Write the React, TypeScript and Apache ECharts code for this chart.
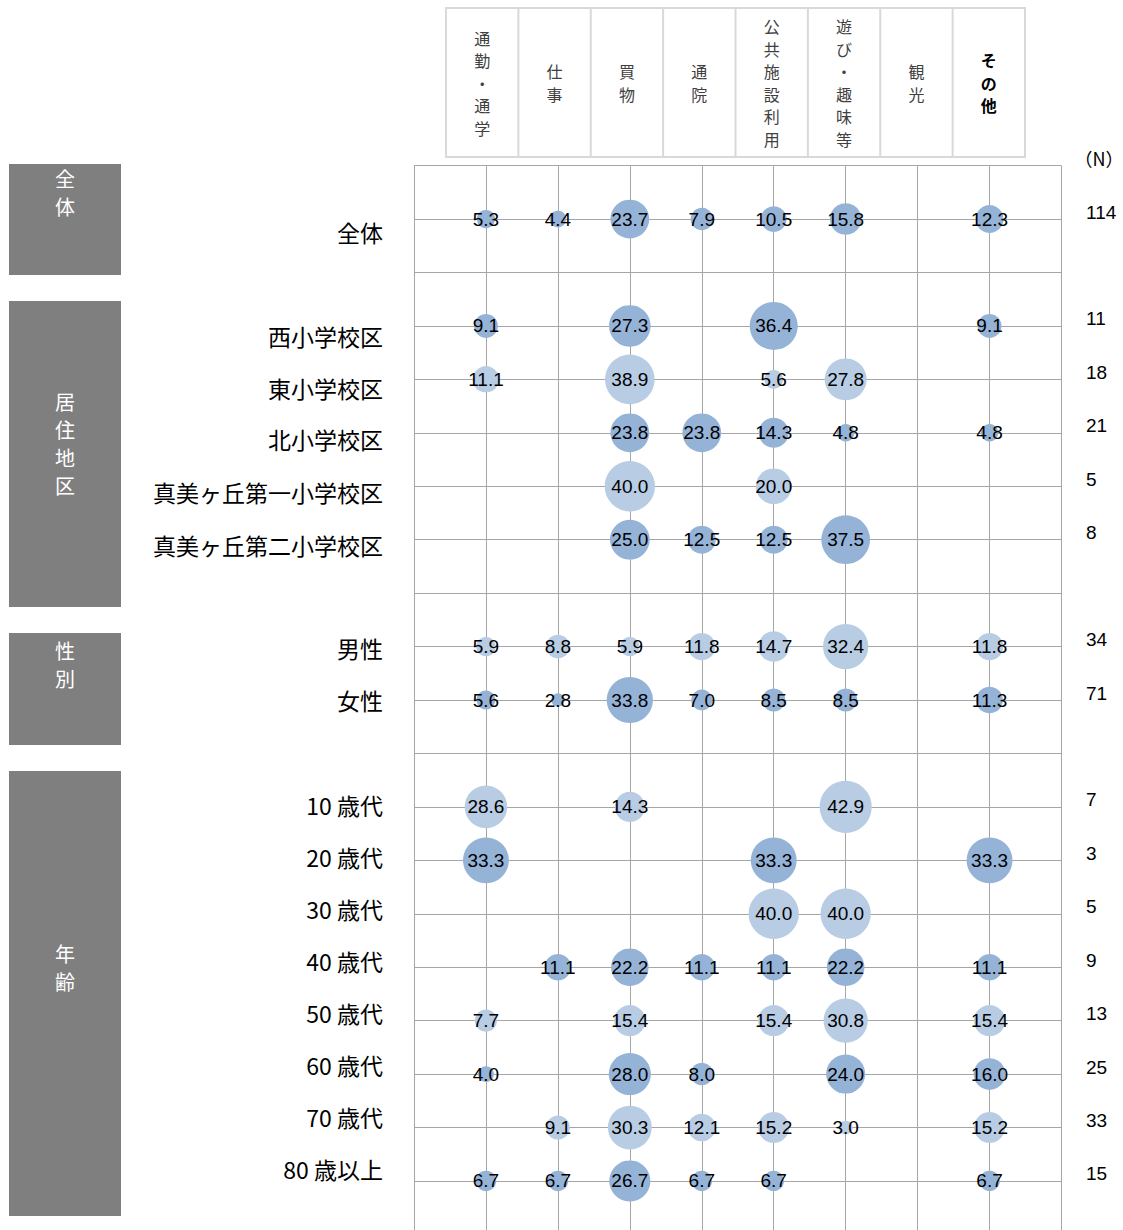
import { useEffect, useRef } from 'react';
import * as echarts from 'echarts';

// ---- data ----
const COLUMNS = ['通勤・通学', '仕事', '買物', '通院', '公共施設利用', '遊び・趣味等', '観光', 'その他'];
const GROUP_NAMES = ['全体', '居住地区', '性別', '年齢'];
const ROW_LABELS = [
  '全体', '西小学校区', '東小学校区', '北小学校区', '真美ヶ丘第一小学校区', '真美ヶ丘第二小学校区',
  '男性', '女性', '10 歳代', '20 歳代', '30 歳代', '40 歳代', '50 歳代', '60 歳代', '70 歳代', '80 歳以上',
];
const ROW_SLOTS = [1, 3, 4, 5, 6, 7, 9, 10, 12, 13, 14, 15, 16, 17, 18, 19];
const N_VALUES = [114, 11, 18, 21, 5, 8, 34, 71, 7, 3, 5, 9, 13, 25, 33, 15];
const ROW_TONES = ['dark', 'dark', 'light', 'dark', 'light', 'dark', 'light', 'dark', 'light', 'dark', 'light', 'dark', 'light', 'dark', 'light', 'dark'];

const V_ZENTAI = [5.3, 4.4, 23.7, 7.9, 10.5, 15.8, null, 12.3];
const V_NISHI = [9.1, null, 27.3, null, 36.4, null, null, 9.1];
const V_HIGASHI = [11.1, null, 38.9, null, 5.6, 27.8, null, null];
const V_KITA = [null, null, 23.8, 23.8, 14.3, 4.8, null, 4.8];
const V_MAMI1 = [null, null, 40.0, null, 20.0, null, null, null];
const V_MAMI2 = [null, null, 25.0, 12.5, 12.5, 37.5, null, null];
const V_MALE = [5.9, 8.8, 5.9, 11.8, 14.7, 32.4, null, 11.8];
const V_FEMALE = [5.6, 2.8, 33.8, 7.0, 8.5, 8.5, null, 11.3];
const V_10S = [28.6, null, 14.3, null, null, 42.9, null, null];
const V_20S = [33.3, null, null, null, 33.3, null, null, 33.3];
const V_30S = [null, null, null, null, 40.0, 40.0, null, null];
const V_40S = [null, 11.1, 22.2, 11.1, 11.1, 22.2, null, 11.1];
const V_50S = [7.7, null, 15.4, null, 15.4, 30.8, null, 15.4];
const V_60S = [4.0, null, 28.0, 8.0, null, 24.0, null, 16.0];
const V_70S = [null, 9.1, 30.3, 12.1, 15.2, 3.0, null, 15.2];
const V_80S = [6.7, 6.7, 26.7, 6.7, 6.7, null, null, 6.7];
const VALUES = [V_ZENTAI, V_NISHI, V_HIGASHI, V_KITA, V_MAMI1, V_MAMI2, V_MALE, V_FEMALE,
  V_10S, V_20S, V_30S, V_40S, V_50S, V_60S, V_70S, V_80S];

// ---- layout ----
const W = 1123;
const H = 1230;
const GRID_LEFT = 414;
const GRID_TOP = 165.6;
const GRID_W = 647.5;
const ROW_H = 53.44;
const GRID_H = H - GRID_TOP;
const Y_MAX = GRID_H / ROW_H;
const ROW_LABEL_Y = [232, 336, 388, 439, 492, 545, 648, 700, 805, 857, 909, 961, 1013, 1065, 1117, 1169];
const PANELS = [
  { top: 164, bottom: 275, textTop: 164 },
  { top: 301, bottom: 607, textTop: 387 },
  { top: 633, bottom: 745, textTop: 636 },
  { top: 771, bottom: 1216, textTop: 939 },
];
const HEADER = { left: 446, top: 8, right: 1025, bottom: 157 };

const DARK = '#95B3D7';
const LIGHT = '#B8CCE4';
const GRID_COLOR = '#a6a6a6';
const CJK = '"Noto Sans CJK JP", "Noto Sans CJK SC", sans-serif';
const NUM = '"Liberation Sans", Arial, sans-serif';

export default function App() {
  const ref = useRef<HTMLDivElement>(null);
  useEffect(() => {
    if (!ref.current) return;
    const chart = echarts.init(ref.current, undefined, { renderer: 'svg' });

    const dark: any[] = [];
    const light: any[] = [];
    VALUES.forEach((row, r) => {
      row.forEach((v, c) => {
        if (v == null) return;
        const pt = [c + 1, ROW_SLOTS[r], v];
        (ROW_TONES[r] === 'dark' ? dark : light).push(pt);
      });
    });

    const graphics: any[] = [];
    // header box
    const colW = (HEADER.right - HEADER.left) / COLUMNS.length;
    graphics.push({
      type: 'rect',
      shape: { x: HEADER.left, y: HEADER.top, width: HEADER.right - HEADER.left, height: HEADER.bottom - HEADER.top },
      style: { fill: '#fff', stroke: '#d9d9d9', lineWidth: 2 },
    });
    for (let i = 1; i < COLUMNS.length; i++) {
      const x = HEADER.left + colW * i;
      graphics.push({
        type: 'line',
        shape: { x1: x, y1: HEADER.top, x2: x, y2: HEADER.bottom },
        style: { stroke: '#d9d9d9', lineWidth: 2 },
      });
    }
    COLUMNS.forEach((name, i) => {
      const isOther = name === 'その他';
      graphics.push({
        type: 'text',
        x: HEADER.left + colW * (i + 0.5),
        y: (HEADER.top + HEADER.bottom) / 2,
        style: {
          text: Array.from(name).join('\n'),
          align: 'center',
          verticalAlign: 'middle',
          fontSize: 16,
          lineHeight: 22.5,
          fontFamily: CJK,
          fontWeight: isOther ? 'bold' : 'normal',
          fill: isOther ? '#000' : '#404040',
        },
      });
    });

    // group panels
    PANELS.forEach((p, i) => {
      graphics.push({
        type: 'rect',
        shape: { x: 9, y: p.top, width: 112, height: p.bottom - p.top },
        style: { fill: '#7f7f7f' },
      });
      graphics.push({
        type: 'text',
        x: 65,
        y: p.textTop,
        style: {
          text: Array.from(GROUP_NAMES[i]).join('\n'),
          align: 'center',
          verticalAlign: 'top',
          fontSize: 20,
          lineHeight: 28,
          fontFamily: CJK,
          fill: '#fff',
        },
      });
    });

    // row labels
    ROW_LABELS.forEach((name, i) => {
      graphics.push({
        type: 'text',
        x: 383,
        y: ROW_LABEL_Y[i],
        style: {
          text: name,
          align: 'right',
          verticalAlign: 'middle',
          fontSize: 23,
          fontWeight: 'normal',
          fontFamily: CJK,
          fill: '#000',
        },
      });
    });

    // N values
    graphics.push({
      type: 'text',
      x: 1099,
      y: 158,
      style: { text: '（N）', align: 'center', verticalAlign: 'middle', fontSize: 18, fontFamily: CJK, fill: '#000' },
    });
    N_VALUES.forEach((n, i) => {
      graphics.push({
        type: 'text',
        x: 1086,
        y: GRID_TOP + ROW_SLOTS[i] * ROW_H - 7,
        style: { text: String(n), align: 'left', verticalAlign: 'middle', fontSize: 19, fontFamily: NUM, fill: '#000' },
      });
    });

    const axisCommon = {
      type: 'value',
      min: 0,
      interval: 1,
      axisLine: { show: false },
      axisTick: { show: false },
      axisLabel: { show: false },
      splitLine: { show: true, lineStyle: { color: GRID_COLOR, width: 1 } },
    };

    const seriesCommon = {
      type: 'scatter',
      symbol: 'circle',
      symbolSize: (d: number[]) => 7.95 * Math.sqrt(d[2]),
      label: {
        show: true,
        position: 'inside',
        formatter: (p: any) => Number(p.data[2]).toFixed(1),
        color: '#000',
        fontSize: 19,
        fontFamily: NUM,
      },
      emphasis: { disabled: true },
      clip: false,
    };

    chart.setOption({
      animation: false,
      backgroundColor: '#fff',
      grid: { left: GRID_LEFT, top: GRID_TOP, width: GRID_W, bottom: 0, containLabel: false },
      xAxis: { ...axisCommon, max: 9 },
      yAxis: {
        ...axisCommon,
        max: Y_MAX,
        inverse: true,
        splitLine: { show: true, showMaxLine: false, lineStyle: { color: GRID_COLOR, width: 1 } },
      },
      series: [
        { ...seriesCommon, name: 'dark', data: dark, itemStyle: { color: DARK, opacity: 1 } },
        { ...seriesCommon, name: 'light', data: light, itemStyle: { color: LIGHT, opacity: 1 } },
      ],
      graphic: graphics,
    });

    return () => chart.dispose();
  }, []);

  return (
    <div
      ref={ref}
      style={{ position: 'fixed', left: 0, top: 0, width: W, height: H }}
    />
  );
}
